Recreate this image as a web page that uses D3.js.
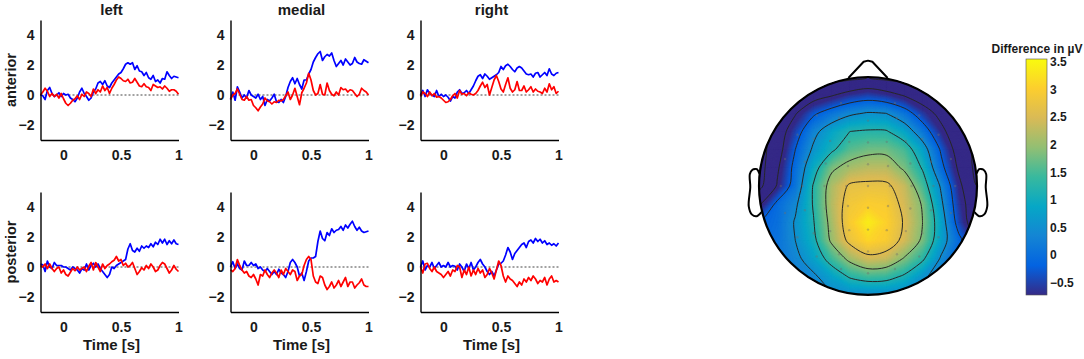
<!DOCTYPE html>
<html lang="en">
<head>
<meta charset="UTF-8" />
<title>ERP differences and topography</title>
<script src="https://d3js.org/d3.v7.min.js"></script>
<style>
  body { margin: 0; background: #fff; }
  svg text { font-family: "Liberation Sans", Arial, sans-serif; font-weight: bold; fill: #1a1a1a; }
</style>
</head>
<body>
<svg id="chart" width="1084" height="359"></svg>
<script>
// time axis of every waveform panel (s)
const times = [-0.2,-0.18,-0.16,-0.14,-0.12,-0.1,-0.08,-0.06,-0.04,-0.02,0,0.02,0.04,0.06,0.08,0.1,0.12,0.14,0.16,0.18,0.2,
  0.22,0.24,0.26,0.28,0.3,0.32,0.34,0.36,0.38,0.4,0.42,0.44,0.46,0.48,0.5,0.52,0.54,0.56,0.58,0.6,0.62,0.64,0.66,0.68,0.7,
  0.72,0.74,0.76,0.78,0.8,0.82,0.84,0.86,0.88,0.9,0.92,0.94,0.96,0.98,1];

const leftAntBlue = [0,-0.05,-0.3,0.3,0.5,0.1,-0.1,0,0.15,-0.1,0.1,0,0.05,-0.2,-0.3,-0.45,-0.2,0.2,0.45,0.1,-0.1,
  -0.35,-0.2,0.2,0.4,0.8,0.9,0.7,0.95,0.6,0.5,0.8,1,1.2,1.4,1.5,1.75,2.05,2.15,2.05,2.15,1.7,1.95,1.6,1.55,1.3,
  1.5,1.15,1.05,1.3,0.9,1,0.8,1.1,1.05,1.55,1.3,1.1,1.25,1.2,1.15];
const leftAntRed = [0,0.2,0.45,0.25,-0.1,0.1,-0.1,0.05,-0.2,0.1,-0.25,-0.55,-0.7,-0.55,-0.35,-0.25,-0.05,-0.3,0.05,-0.1,0.2,
  0.1,-0.1,0.4,0.1,0.35,0.2,0.6,0.3,0.5,0.1,0.45,0.7,1,1.2,1.1,0.95,0.9,1.05,0.8,0.85,1.1,0.85,0.6,0.55,0.75,
  0.55,0.5,0.3,0.7,0.6,0.5,0.55,0.4,0.6,0.45,0.25,0.35,0.35,0.25,0.05];
const medAntBlue = [-0.3,0.2,-0.35,0.55,0.2,-0.2,0,-0.2,0.3,0,-0.1,-0.2,0.05,-0.3,-0.1,-0.7,-0.3,-0.4,-0.2,0.05,-0.45,
  -0.5,-0.3,-0.5,-0.1,0.5,0.9,1.15,0.75,1.1,0.7,0.4,1,1,1.4,1.7,2.2,2.5,2.75,2.9,2.3,2.55,2.7,2.6,2.8,2.3,
  1.9,2.1,2.3,2,2.4,2.2,2,2.1,2.5,2.2,2.1,2.05,2.35,2.25,2.15];
const medAntRed = [-0.3,0,0.1,0.4,0.05,-0.3,-0.35,-0.1,-0.35,-0.3,-0.7,-0.85,-1.05,-0.8,-0.6,-0.2,-0.4,-0.45,-0.6,-0.45,-0.5,
  -0.35,-0.4,-0.3,-0.05,0.2,-0.3,0,0.45,-0.1,-0.65,0.15,0.45,0.8,1.45,1,0.3,0,0.1,0.7,0.05,0,0.8,0.3,0.05,-0.05,
  0.2,0,0.5,0.35,0.4,0.2,0.35,0.3,0.1,-0.1,0.05,0.45,0.3,0.2,0];
const rightAntBlue = [0,0.3,-0.1,0.35,0.1,0,-0.1,0.3,-0.1,0.05,-0.1,0,-0.15,-0.4,-0.1,-0.2,0.2,0.35,0.1,0.15,0.3,
  0.1,0.35,0.6,0.95,1.25,1.35,1.1,1.4,1.25,1.05,1.15,1.25,1.35,1.5,1.9,1.7,1.95,2.05,1.9,1.7,1.55,1.8,1.9,1.8,1.6,
  1.4,1.35,1.4,1.2,1.45,1.5,1.2,1.35,1.5,1.3,1.75,1.4,1.3,1.45,1.5];
const rightAntRed = [-0.1,0.2,0.1,-0.1,0.2,-0.05,0.1,-0.15,-0.1,-0.2,-0.35,-0.5,-0.45,-0.3,-0.05,0.1,-0.2,0.3,0.05,0.1,-0.05,
  0.15,0.05,0,0.1,0.3,0.6,0.85,0.5,0.7,0,0.5,1,1.3,0.9,0.4,0.2,0.7,1.15,0.45,0.2,0.35,0.9,0.3,0.3,0.6,
  0.2,0.35,0.55,0.2,0.4,0.25,0.2,0.1,0.45,0.2,0.75,0.35,0.55,0.1,0.25];
const leftPostBlue = [0.2,0.15,-0.3,0.4,0,-0.1,0.3,0.1,0.1,0.1,0,0,-0.1,-0.2,0,-0.1,-0.2,-0.4,-0.1,-0.2,0.2,
  -0.2,0.1,0.25,0,0.2,-0.1,-0.3,-0.5,-0.7,-0.5,0,-0.1,0.1,0.2,0.3,0.4,0.5,1.2,1.55,1.1,1,1.25,1.05,1.4,1.25,
  1.4,1.3,1.55,1.35,1.65,1.5,1.85,1.6,1.85,1.5,1.75,1.55,1.8,1.55,1.5];
const leftPostRed = [0.1,0,0.2,-0.1,0.2,-0.1,-0.3,-0.1,0,-0.4,-0.2,-0.5,-0.6,-0.35,-0.1,-0.25,0,-0.2,-0.1,0,-0.3,
  0.05,0.3,-0.2,0.3,0,-0.3,0.2,-0.1,0.1,0.2,0.35,0.45,0.7,0.4,0.5,0.1,0.25,0,0.1,0.3,-0.1,-0.5,-0.3,-0.05,-0.2,
  0.1,-0.1,0.2,0,-0.3,-0.2,0.1,0.3,0.2,-0.1,-0.4,-0.2,0.1,-0.15,-0.3];
const medPostBlue = [0,0.35,-0.1,0.2,-0.1,-0.2,0.4,0.1,0.1,0.3,0.1,0.2,-0.1,0,-0.2,-0.3,-0.1,-0.3,-0.5,-0.3,-0.5,
  -0.15,-0.4,-0.5,-0.7,-0.3,0.3,0.5,0.3,0,-0.6,-0.4,-0.9,-0.3,0.4,0.6,0.6,0.7,1.7,2.4,1.9,1.75,2.3,2.1,2.55,2.3,
  2.45,2.5,2.7,2.45,2.8,2.6,2.85,3.05,2.7,2.45,2.65,2.4,2.3,2.35,2.4];
const medPostRed = [-0.2,-0.3,-0.1,0.5,0.1,-0.2,-0.4,-0.3,-0.6,-0.7,-0.5,-0.8,-1.2,-0.5,-0.6,-0.2,-0.5,-0.7,-0.4,-0.2,-0.4,
  -0.7,-0.2,-0.5,-0.1,-0.3,-0.5,-0.2,-0.3,-0.9,-0.6,-0.5,0.1,0.5,0.7,0.5,-0.6,-1,-1.1,-0.6,-0.7,-1.2,-1.5,-1.3,-1,-1.4,
  -1.2,-0.9,-1.3,-1,-0.7,-1.3,-1,-1,-1.4,-1.2,-1.05,-0.8,-1.2,-1.3,-1.3];
const rightPostBlue = [0,0.4,-0.2,0.1,0,0.3,-0.1,0.1,0.3,0,0.1,0,0.3,0,0.1,0.05,-0.2,0.2,0,-0.3,0.2,
  -0.1,0.3,-0.2,0,0.3,0.5,0.2,0,-0.3,-0.5,-0.3,-0.6,-0.2,0.2,0.25,0.4,0.8,1.3,1,0.5,0.9,1.1,1.3,1.5,1.6,
  1.3,1.7,1.8,1.6,1.9,1.7,1.85,1.6,1.75,1.5,1.6,1.45,1.55,1.4,1.6];
const rightPostRed = [0,-0.4,0.2,0.25,-0.1,-0.3,0,-0.3,-0.4,-0.5,-0.7,-0.5,-0.3,-0.6,-0.2,-0.3,0.1,0,-0.7,-0.2,-0.5,
  0,-0.6,-0.2,-0.5,-0.1,-0.4,-0.2,-0.7,-0.5,-0.1,-0.4,-0.8,-0.2,0.4,0.1,-0.6,-1,-0.6,-0.8,-0.9,-1.1,-1.3,-1,-1.2,-0.8,
  -1,-0.7,-0.9,-0.6,-0.8,-1.1,-0.9,-1,-0.7,-1.2,-0.8,-0.6,-1,-0.9,-1];

const columnNames = ["left", "medial", "right"];
const rowNames = ["anterior", "posterior"];
const xTicks = [0, 0.5, 1];
const yTicks = [-2, 0, 2, 4];

// scalp difference (µV), 13 x 13 samples over the head square, top row = front
const topoGrid = [
  [-2.2,-2.2,-2.1,-2,-1.9,-1.8,-1.6,-1.8,-1.9,-2,-2.1,-2.2,-2.2],
  [-2.2,-2,-1.6,-1.2,-0.95,-0.65,-0.5,-0.65,-0.95,-1.3,-1.6,-1.9,-2.1],
  [-2,-1.6,-0.95,-0.3,0.1,0.4,0.55,0.5,0.1,-0.55,-1.1,-1.6,-2],
  [-2,-1.3,-0.5,0.33,0.85,1.2,1.26,1.25,0.85,0.15,-0.7,-1.4,-1.9],
  [-1.9,-1.2,-0.2,0.6,1.1,1.6,1.75,1.75,1.5,0.8,-0.25,-1.2,-1.8],
  [-1.9,-1,0,0.95,1.8,2.1,2.25,2.25,1.8,1.15,0,-1,-1.8],
  [-1.8,-0.85,0.1,1.25,2.15,2.68,2.72,2.7,2.35,1.5,0.45,-0.75,-1.6],
  [-1,-0.05,0.4,1.25,2.2,2.85,3,2.95,2.45,1.85,0.65,-0.6,-1.4],
  [-0.2,0,0.55,1.17,2.1,2.95,3.38,3.05,2.55,1.9,0.85,-0.45,-1.4],
  [-0.1,0.05,0.5,1.05,2,2.75,3.1,2.95,2.45,1.8,0.8,-0.05,-0.9],
  [0,0.1,0.35,0.8,1.45,2.05,2.45,2.35,1.85,1.3,0.45,-0.2,-0.6],
  [0.1,0.15,0.25,0.4,0.8,1.25,1.45,1.4,1.1,0.6,0.25,-0.05,-0.3],
  [0.1,0.2,0.3,0.35,0.4,0.45,0.45,0.45,0.4,0.35,0.25,0.05,-0.2]
];
const contourLevels = [-1.6, -0.9, -0.2, 0.5, 1.2, 1.9, 2.6];
const colorbarTicks = [-0.5, 0, 0.5, 1, 1.5, 2, 2.5, 3, 3.5];
const colorLimits = [-0.72, 3.55];
const parulaColors = ["#352a87","#0363e1","#1485d4","#06a7c6","#38b99e","#92bf73","#d9ba56","#fcce2e","#f9fb0e"];

// electrode sites (azimuth in degrees from nose, radius with 0.5 = head outline)
const elecTheta = [-18,18,-36,-23,0,23,36,-54,-49,-40,-23,0,23,40,49,54,-72,-69,-62,-45,0,45,62,69,72,
  -90,-90,-90,-90,0,90,90,90,90,-108,-111,-118,-135,180,135,118,111,108,-126,-131,-140,-157,180,157,140,131,126,
  -144,-157,180,157,144,-162,180,162];
const elecRadius = [0.4,0.4,0.4,0.34,0.3,0.34,0.4,0.4,0.33,0.27,0.22,0.2,0.22,0.27,0.33,0.4,0.4,0.31,0.22,0.13,0.1,0.13,0.22,0.31,0.4,
  0.4,0.3,0.2,0.1,0,0.1,0.2,0.3,0.4,0.4,0.31,0.22,0.13,0.1,0.13,0.22,0.31,0.4,0.4,0.33,0.27,0.22,0.2,0.22,0.27,0.33,0.4,
  0.4,0.34,0.3,0.34,0.4,0.4,0.4,0.4];

const panels = [
  { row: 0, col: 0, blue: leftAntBlue, red: leftAntRed },
  { row: 0, col: 1, blue: medAntBlue, red: medAntRed },
  { row: 0, col: 2, blue: rightAntBlue, red: rightAntRed },
  { row: 1, col: 0, blue: leftPostBlue, red: leftPostRed },
  { row: 1, col: 1, blue: medPostBlue, red: medPostRed },
  { row: 1, col: 2, blue: rightPostBlue, red: rightPostRed }
];

const svg = d3.select("#chart");
const pw = 138, ph = 120;
const x = d3.scaleLinear().domain([-0.2, 1]).range([0, pw]);
const y = d3.scaleLinear().domain([-3, 5]).range([ph, 0]);

panels.forEach(p => {
  const g = svg.append("g")
    .attr("transform", `translate(${40.5 + p.col * 190},${p.row === 0 ? 20 : 192})`);

  // dotted zero line
  g.append("line")
    .attr("x1", 0).attr("x2", pw)
    .attr("y1", y(0)).attr("y2", y(0))
    .attr("stroke", "#444").attr("stroke-width", 1)
    .attr("stroke-dasharray", "2,2");

  const line = d3.line().x((d, i) => x(times[i])).y(d => y(d));
  g.append("path").datum(p.blue).attr("d", line)
    .attr("fill", "none").attr("stroke", "#0000ff").attr("stroke-width", 1.7).attr("stroke-linejoin", "round");
  g.append("path").datum(p.red).attr("d", line)
    .attr("fill", "none").attr("stroke", "#ff0000").attr("stroke-width", 1.7).attr("stroke-linejoin", "round");

  const ax = g.append("g").attr("transform", `translate(0,${ph})`)
    .call(d3.axisBottom(x).tickValues(xTicks).tickSize(0).tickPadding(10)
      .tickFormat(d => d === 0 ? "0" : d3.format("~g")(d)));
  const ay = g.append("g")
    .call(d3.axisLeft(y).tickValues(yTicks).tickSize(0).tickPadding(6));
  [ax, ay].forEach(a => {
    a.select(".domain").attr("stroke", "#000").attr("stroke-width", 1.4);
    a.selectAll("text").attr("font-size", "14px")
      .style("font-family", '"Liberation Sans", Arial, sans-serif').style("font-weight", "bold").attr("fill", "#1a1a1a");
  });

  if (p.row === 0) {
    g.append("text").attr("x", pw / 2 + 2).attr("y", -5)
      .attr("text-anchor", "middle").attr("font-size", "15px").text(columnNames[p.col]);
  } else {
    g.append("text").attr("x", pw / 2 + 2).attr("y", ph + 38)
      .attr("text-anchor", "middle").attr("font-size", "15px").text("Time [s]");
  }
  if (p.col === 0) {
    g.append("text")
      .attr("transform", `translate(-25,${ph / 2}) rotate(-90)`)
      .attr("text-anchor", "middle").attr("font-size", "14.5px").text(rowNames[p.row]);
  }
});

// ---- topographic map ----
const cx = 868, cy = 186, rad = 109;
const n = topoGrid.length;
const parula = d3.scaleLinear()
  .domain(parulaColors.map((c, i) => colorLimits[0] + (colorLimits[1] - colorLimits[0]) * i / (parulaColors.length - 1)))
  .range(parulaColors).interpolate(d3.interpolateRgb).clamp(true);

const gx = d3.scaleLinear().domain([0.5, n - 0.5]).range([cx - rad, cx + rad]);
const gy = d3.scaleLinear().domain([0.5, n - 0.5]).range([cy - rad, cy + rad]);
const values = topoGrid.flat();
const geo = d3.geoPath(d3.geoTransform({ point(px, py) { this.stream.point(gx(px), gy(py)); } }));

svg.append("clipPath").attr("id", "headClip")
  .append("circle").attr("cx", cx).attr("cy", cy).attr("r", rad);

const topo = svg.append("g").attr("clip-path", "url(#headClip)");
const step = 0.04;
const fillLevels = d3.range(-2.4, 3.7, step);
topo.selectAll("path.band")
  .data(d3.contours().size([n, n]).smooth(true).thresholds(fillLevels)(values))
  .join("path").attr("class", "band")
  .attr("d", geo)
  .attr("fill", d => parula(d.value + step / 2))
  .attr("stroke", d => parula(d.value + step / 2)).attr("stroke-width", 0.3);

// contour lines, smoothed
const smoothLine = d3.line().curve(d3.curveCatmullRomClosed.alpha(0.5));
d3.contours().size([n, n]).smooth(true).thresholds(contourLevels)(values).forEach(mp => {
  mp.coordinates.forEach(poly => poly.forEach(ring => {
    const pts = ring.slice(0, -1).map(([a, b]) => [gx(a), gy(b)]);
    topo.append("path").attr("d", smoothLine(pts))
      .attr("fill", "none").attr("stroke", "#262626").attr("stroke-width", 1);
  }));
});

// electrode dots
topo.selectAll("circle.elec")
  .data(elecTheta.map((t, i) => [t, elecRadius[i]]))
  .join("circle").attr("class", "elec")
  .attr("cx", d => cx + Math.sin(d[0] * Math.PI / 180) * d[1] * rad / 0.5)
  .attr("cy", d => cy - Math.cos(d[0] * Math.PI / 180) * d[1] * rad / 0.5)
  .attr("r", 1.2).attr("fill", "#6e6e6e").attr("fill-opacity", 0.4);

// head outline, nose and ears (standard topoplot outline, head radius 0.5)
const hs = rad / 0.5;
const noseX = [0.09, 0.02, 0, -0.02, -0.09];
const noseY = [0.4954, 0.57, 0.575, 0.57, 0.4954];
const earX = [0.497, 0.510, 0.518, 0.5299, 0.5419, 0.54, 0.547, 0.532, 0.510, 0.489];
const earY = [0.0555, 0.0775, 0.0783, 0.0746, 0.0555, -0.0055, -0.0932, -0.1313, -0.1384, -0.1199];
svg.append("path")
  .attr("d", d3.line()(noseX.map((v, i) => [cx + v * hs, cy - noseY[i] * hs])))
  .attr("fill", "none").attr("stroke", "#000").attr("stroke-width", 2).attr("stroke-linejoin", "round");
[1, -1].forEach(side => {
  svg.append("path")
    .attr("d", d3.line().curve(d3.curveCatmullRom)(earX.map((v, i) => [cx + side * v * hs, cy - earY[i] * hs])))
    .attr("fill", "none").attr("stroke", "#000").attr("stroke-width", 2);
});
svg.append("circle").attr("cx", cx).attr("cy", cy).attr("r", rad)
  .attr("fill", "none").attr("stroke", "#000").attr("stroke-width", 2.2);

// ---- colorbar ----
const cbX = 1026, cbW = 21, cbTop = 59, cbBottom = 295;
const cb = d3.scaleLinear().domain(colorLimits).range([cbBottom, cbTop]);
const grad = svg.append("defs").append("linearGradient").attr("id", "parulaGrad")
  .attr("x1", 0).attr("y1", 1).attr("x2", 0).attr("y2", 0);
parulaColors.forEach((c, i) => grad.append("stop")
  .attr("offset", i / (parulaColors.length - 1)).attr("stop-color", c));
svg.append("rect").attr("x", cbX).attr("y", cbTop).attr("width", cbW).attr("height", cbBottom - cbTop)
  .attr("fill", "url(#parulaGrad)").attr("stroke", "#555").attr("stroke-width", 0.6);
svg.selectAll("text.cbtick").data(colorbarTicks).join("text").attr("class", "cbtick")
  .attr("x", cbX + cbW + 3).attr("y", d => cb(d)).attr("dy", "0.35em")
  .attr("font-size", "12px").text(d => d3.format("~g")(d));
svg.append("text").attr("x", 1037).attr("y", 53).attr("text-anchor", "middle")
  .attr("font-size", "12px").text("Difference in µV");
</script>
</body>
</html>
